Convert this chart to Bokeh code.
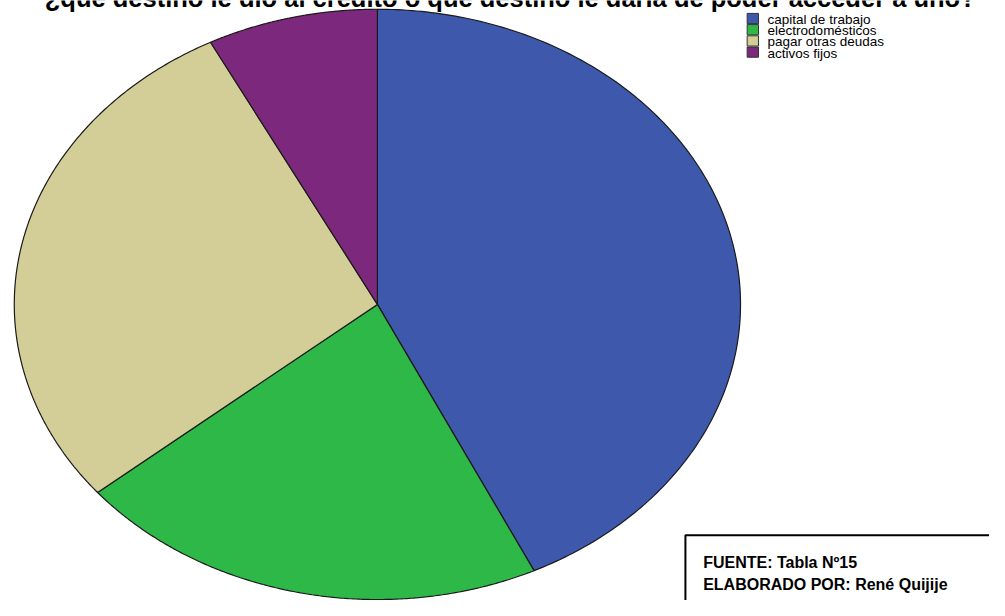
import numpy as np
from bokeh.plotting import figure
from bokeh.models import Range1d
from bokeh.core.properties import value
from bokeh.embed import file_html
from bokeh.resources import INLINE

title_text = "¿qué destino le dio al crédito o qué destino le daría de poder acceder a uno?"
categories = ["capital de trabajo", "electrodomésticos", "pagar otras deudas", "activos fijos"]
percentages = [42.9, 21.1, 28.4, 7.6]
colors = ["#3E58AC", "#2EB848", "#D3CE97", "#7C287D"]
source_lines = ["FUENTE: Tabla Nº15", "ELABORADO POR: René Quijije"]

W, H = 989, 600
p = figure(width=W, height=H, output_backend="svg", toolbar_location=None,
           x_range=Range1d(0, 1005), y_range=Range1d(616, 0),
           min_border=0, outline_line_color=None)
p.axis.visible = False
p.grid.visible = False
p.background_fill_color = "white"
p.border_fill_color = "white"

FONT = value("Liberation Sans")

# title (cut at the top edge, as in the original)
p.text(x=[45], y=[-2.5], text=[title_text], text_font=FONT, text_font_size="25.5px",
       text_font_style="bold", text_color="black", text_baseline="middle", text_align="left")

# elliptical pie
cx, cy, rx, ry = 383, 312, 369, 303
vals = np.array(percentages, dtype=float)
bounds = np.concatenate([[0], np.cumsum(vals) / vals.sum()]) * 2 * np.pi
xs, ys = [], []
for a0, a1 in zip(bounds[:-1], bounds[1:]):
    t = np.linspace(a0, a1, 200)
    xs.append(np.concatenate([[cx], cx + rx * np.sin(t)]).tolist())
    ys.append(np.concatenate([[cy], cy - ry * np.cos(t)]).tolist())
p.patches(xs=xs, ys=ys, fill_color=colors, line_color="#1a1a1a", line_width=1.2)

# legend
lx, ly0, dy, sq = 764.5, 18.5, 11.5, 11.5
for i, (c, col) in enumerate(zip(categories, colors)):
    y = ly0 + i * dy
    p.rect(x=[lx], y=[y], width=sq, height=sq - 1, fill_color=col, line_color="#333333", line_width=1)
    p.text(x=[lx + 15], y=[y + 1], text=[c], text_font=FONT, text_font_size="13.5px",
           text_color="black", text_baseline="middle", text_align="left")

# source box
p.quad(left=[696], right=[1030], top=[549], bottom=[650], fill_color=None,
       line_color="black", line_width=2)
for i, s in enumerate(source_lines):
    p.text(x=[714], y=[577 + i * 23], text=[s], text_font=FONT, text_font_size="16px",
           text_font_style="bold", text_color="black", text_baseline="middle", text_align="left")

open("out.html", "w").write(file_html(p, INLINE))
